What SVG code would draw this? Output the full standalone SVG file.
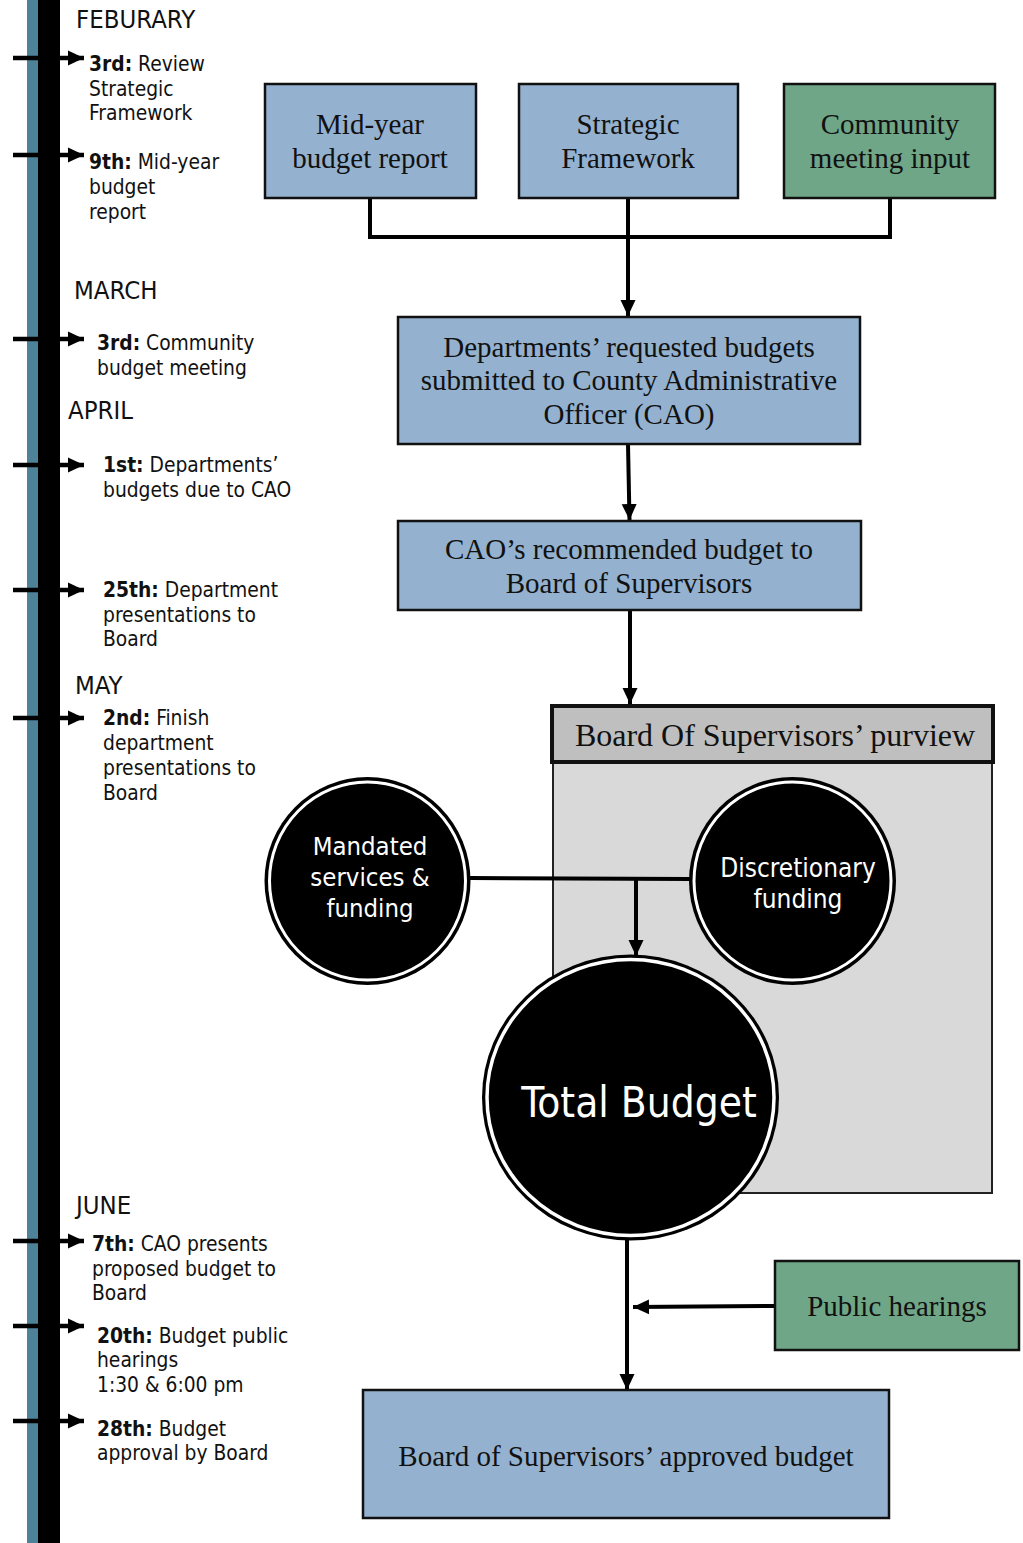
<svg xmlns="http://www.w3.org/2000/svg" width="1023" height="1543" viewBox="0 0 1023 1543">
<style>
.tl{font-family:"DejaVu Sans Condensed","DejaVu Sans",sans-serif;font-size:20.8px;fill:#111}
.mo{font-family:"DejaVu Sans Condensed","DejaVu Sans",sans-serif;font-size:25.5px;fill:#111}
.b{font-weight:bold}
.box{stroke:#111;stroke-width:2.5}
.blue{fill:#94b2cf}
.green{fill:#6fa688}
.st{font-family:"Liberation Serif","Times New Roman",serif;font-size:29px;fill:#111;text-anchor:middle}
.ct{font-family:"DejaVu Sans Condensed","DejaVu Sans",sans-serif;fill:#fff;text-anchor:middle}
.con{stroke:#000;stroke-width:4;fill:none}
.tarr{stroke:#000;stroke-width:4.5}
</style>
<defs>
<marker id="ah" markerUnits="userSpaceOnUse" markerWidth="17" markerHeight="17" refX="16" refY="8" orient="auto">
<path d="M0,0.5 L16,8 L0,15.5 z" fill="#000"/>
</marker>
</defs>

<g id="timeline">
<rect x="27" y="0" width="11" height="1543" fill="#4e8299"/>
<rect x="38" y="0" width="22" height="1543" fill="#000"/>
<g class="tarr">
<line x1="13" y1="58" x2="84" y2="58" marker-end="url(#ah)"/>
<line x1="13" y1="155" x2="84" y2="155" marker-end="url(#ah)"/>
<line x1="13" y1="339" x2="84" y2="339" marker-end="url(#ah)"/>
<line x1="13" y1="465" x2="84" y2="465" marker-end="url(#ah)"/>
<line x1="13" y1="590" x2="84" y2="590" marker-end="url(#ah)"/>
<line x1="13" y1="718" x2="84" y2="718" marker-end="url(#ah)"/>
<line x1="13" y1="1241" x2="84" y2="1241" marker-end="url(#ah)"/>
<line x1="13" y1="1326" x2="84" y2="1326" marker-end="url(#ah)"/>
<line x1="13" y1="1421" x2="84" y2="1421" marker-end="url(#ah)"/>
</g>
<text class="mo" x="76" y="28">FEBURARY</text>
<text class="tl" x="89" y="71"><tspan class="b">3rd:</tspan> Review</text>
<text class="tl" x="89" y="96">Strategic</text>
<text class="tl" x="89" y="120">Framework</text>
<text class="tl" x="89" y="169"><tspan class="b">9th:</tspan> Mid-year</text>
<text class="tl" x="89" y="194">budget</text>
<text class="tl" x="89" y="219">report</text>
<text class="mo" x="74" y="299">MARCH</text>
<text class="tl" x="97" y="350"><tspan class="b">3rd:</tspan> Community</text>
<text class="tl" x="97" y="375">budget meeting</text>
<text class="mo" x="68" y="419">APRIL</text>
<text class="tl" x="103" y="472"><tspan class="b">1st:</tspan> Departments’</text>
<text class="tl" x="103" y="497">budgets due to CAO</text>
<text class="tl" x="103" y="597"><tspan class="b">25th:</tspan> Department</text>
<text class="tl" x="103" y="622">presentations to</text>
<text class="tl" x="103" y="646">Board</text>
<text class="mo" x="75" y="694">MAY</text>
<text class="tl" x="103" y="725"><tspan class="b">2nd:</tspan> Finish</text>
<text class="tl" x="103" y="750">department</text>
<text class="tl" x="103" y="775">presentations to</text>
<text class="tl" x="103" y="800">Board</text>
<text class="mo" x="76" y="1214">JUNE</text>
<text class="tl" x="92" y="1251"><tspan class="b">7th:</tspan> CAO presents</text>
<text class="tl" x="92" y="1276">proposed budget to</text>
<text class="tl" x="92" y="1300">Board</text>
<text class="tl" x="97" y="1343"><tspan class="b">20th:</tspan> Budget public</text>
<text class="tl" x="97" y="1367">hearings</text>
<text class="tl" x="97" y="1392">1:30 &amp; 6:00 pm</text>
<text class="tl" x="97" y="1436"><tspan class="b">28th:</tspan> Budget</text>
<text class="tl" x="97" y="1460">approval by Board</text>
</g>

<g id="purview">
<rect x="553" y="762" width="439" height="431" fill="#d9d9d9" stroke="#222" stroke-width="2"/>
<rect x="552" y="706" width="441" height="56" fill="#bfbfbf" stroke="#111" stroke-width="4"/>
<text class="st" x="775" y="746" style="font-size:32px">Board Of Supervisors’ purview</text>
</g>

<g id="connectors">
<polyline class="con" points="370,198 370,237 890,237 890,198"/>
<line class="con" x1="628" y1="198" x2="628" y2="316" marker-end="url(#ah)"/>
<line class="con" x1="628" y1="444" x2="629.5" y2="520" marker-end="url(#ah)"/>
<line class="con" x1="630" y1="610" x2="630" y2="704" marker-end="url(#ah)"/>
<line class="con" x1="470" y1="878" x2="690" y2="879"/>
<line class="con" x1="636" y1="879" x2="636" y2="956" marker-end="url(#ah)"/>
<line class="con" x1="627" y1="1238" x2="627" y2="1390" marker-end="url(#ah)"/>
<line class="con" x1="775" y1="1306" x2="633" y2="1307" marker-end="url(#ah)"/>
</g>

<g id="midyear">
<rect class="box blue" x="265" y="84" width="211" height="114"/>
<text class="st" x="370" y="134">Mid-year</text>
<text class="st" x="370" y="168">budget report</text>
</g>
<g id="strategic">
<rect class="box blue" x="519" y="84" width="219" height="114"/>
<text class="st" x="628" y="134">Strategic</text>
<text class="st" x="628" y="168">Framework</text>
</g>
<g id="community">
<rect class="box green" x="784" y="84" width="211" height="114"/>
<text class="st" x="890" y="134">Community</text>
<text class="st" x="890" y="168">meeting input</text>
</g>
<g id="requested">
<rect class="box blue" x="398" y="317" width="462" height="127"/>
<text class="st" x="629" y="357">Departments’ requested budgets</text>
<text class="st" x="629" y="390">submitted to County Administrative</text>
<text class="st" x="629" y="424">Officer (CAO)</text>
</g>
<g id="recommended">
<rect class="box blue" x="398" y="521" width="463" height="89"/>
<text class="st" x="629" y="559">CAO’s recommended budget to</text>
<text class="st" x="629" y="593">Board of Supervisors</text>
</g>

<g id="mandated">
<ellipse cx="367.5" cy="881" rx="103" ry="104" fill="#000"/>
<ellipse cx="367.5" cy="881" rx="98" ry="99" fill="#000" stroke="#fff" stroke-width="3"/>
<text class="ct" x="370" y="855" style="font-size:25.5px">Mandated</text>
<text class="ct" x="370" y="886" style="font-size:25.5px">services &amp;</text>
<text class="ct" x="370" y="917" style="font-size:25.5px">funding</text>
</g>
<g id="discretionary">
<ellipse cx="792.5" cy="881" rx="103.5" ry="104" fill="#000"/>
<ellipse cx="792.5" cy="881" rx="98.5" ry="99" fill="#000" stroke="#fff" stroke-width="3"/>
<text class="ct" x="798" y="877" style="font-size:26px">Discretionary</text>
<text class="ct" x="798" y="908" style="font-size:26px">funding</text>
</g>
<g id="total">
<ellipse cx="630.5" cy="1097.5" rx="148.5" ry="143" fill="#000"/>
<ellipse cx="630.5" cy="1097.5" rx="143.5" ry="138" fill="#000" stroke="#fff" stroke-width="3.5"/>
<text class="ct" x="639" y="1117" style="font-size:42px">Total Budget</text>
</g>

<g id="hearings">
<rect class="box green" x="775" y="1261" width="244" height="89"/>
<text class="st" x="897" y="1316">Public hearings</text>
</g>
<g id="approved">
<rect class="box blue" x="363" y="1390" width="526" height="128"/>
<text class="st" x="626" y="1466">Board of Supervisors’ approved budget</text>
</g>
</svg>
